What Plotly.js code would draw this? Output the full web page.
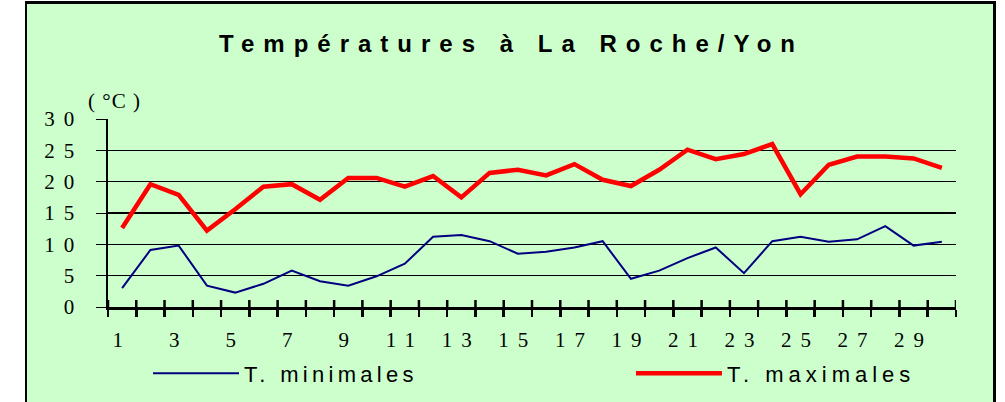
<!DOCTYPE html>
<html><head><meta charset="utf-8">
<script src="https://cdn.plot.ly/plotly-3.0.1.min.js"></script>
<style>
html,body{margin:0;padding:0;background:#fff;width:1005px;height:402px;overflow:hidden}
#chart{position:absolute;left:25px;top:1px;width:966px;height:398px;border-left:2px solid #000;border-right:3px solid #000;border-top:3px solid #000;background:#ccffcc}
text.gtitle{letter-spacing:9px}
.xtick text,.ytick text{letter-spacing:9px}
text.legendtext{letter-spacing:4.3px}
text.legend2text{letter-spacing:5px}
text.annotation-text{letter-spacing:1px}
</style></head><body><div id="chart"></div>
<script>
const days = [1,2,3,4,5,6,7,8,9,10,11,12,13,14,15,16,17,18,19,20,21,22,23,24,25,26,27,28,29,30];
const tMin = [3.0,9.1,9.8,3.4,2.3,3.7,5.8,4.1,3.4,4.9,6.9,11.2,11.5,10.5,8.5,8.8,9.5,10.5,4.5,5.8,7.8,9.5,5.4,10.5,11.2,10.4,10.8,12.9,9.8,10.4];
const tMax = [12.6,19.6,17.9,12.2,15.6,19.2,19.6,17.1,20.6,20.6,19.2,20.9,17.5,21.4,21.9,21.0,22.8,20.3,19.3,21.9,25.1,23.6,24.4,26.0,18.0,22.7,24.0,24.0,23.7,22.2];
const seriesNames = ['T. minimales','T. maximales'];
const titleText = 'Températures à La Roche/Yon';
const unitText = '( °C )';
const xTickVals = [1,3,5,7,9,11,13,15,17,19,21,23,25,27,29];
const xBoundaries = [0.5,1.5,2.5,3.5,4.5,5.5,6.5,7.5,8.5,9.5,10.5,11.5,12.5,13.5,14.5,15.5,16.5,17.5,18.5,19.5,20.5,21.5,22.5,23.5,24.5,25.5,26.5,27.5,28.5,29.5,30.5];
const yTickVals = [0,5,10,15,20,25,30];

const serif = 'Liberation Serif, Times New Roman, serif';
const sans = 'Liberation Sans, Arial, sans-serif';

const traces = [
  {x: days, y: tMin, mode: 'lines', name: seriesNames[0], legend: 'legend', line: {color: '#000080', width: 2}},
  {x: days, y: tMax, mode: 'lines', name: seriesNames[1], legend: 'legend2', line: {color: '#ff0000', width: 4.5}}
];

// the category-boundary tick marks cross the axis line: the outer half is the axis' own (minor) ticks,
// the inner half is mirrored with short line shapes on the same boundaries
const plotH = 188.4;
const innerTicks = xBoundaries.map(b => ({type: 'line', xref: 'x', yref: 'paper', x0: b, x1: b, y0: 0, y1: 7 / plotH,
  line: {color: '#000', width: 2.5}, layer: 'above'}));

const legendBase = {orientation: 'h', xanchor: 'left', y: -0.354, yanchor: 'middle',
  font: {family: sans, size: 22, color: '#000'}, bgcolor: 'rgba(0,0,0,0)', itemwidth: 86};

const layout = {
  width: 966, height: 398,
  paper_bgcolor: '#ccffcc', plot_bgcolor: 'rgba(0,0,0,0)',
  margin: {l: 81, r: 37, t: 115, b: 94.6, pad: 0, autoexpand: false},
  title: {text: titleText, font: {family: sans, size: 24, color: '#000', weight: 'bold'},
          x: 0.5016, xref: 'container', xanchor: 'center', y: 0.9, yref: 'container', yanchor: 'middle'},
  showlegend: true,
  legend: Object.assign({}, legendBase, {x: 0.0472}),
  legend2: Object.assign({}, legendBase, {x: 0.6167}),
  xaxis: {range: [0.5, 30.5], tickmode: 'array', tickvals: xTickVals, ticks: '', showgrid: false, zeroline: false,
          minor: {tickmode: 'array', tickvals: xBoundaries, ticks: 'outside', ticklen: 7, tickwidth: 2.5, tickcolor: '#000', showgrid: false},
          showline: true, linecolor: '#000', linewidth: 2.5, layer: 'above traces',
          tickfont: {family: serif, size: 21, color: '#000'}, ticklabelstandoff: 12, fixedrange: true},
  yaxis: {range: [0, 30], tickmode: 'array', tickvals: yTickVals, ticks: 'outside', ticklen: 10, tickwidth: 1, tickcolor: '#000',
          showgrid: true, gridcolor: '#000', gridwidth: 1.2, zeroline: false, showline: true, linecolor: '#000', linewidth: 2.5,
          layer: 'above traces',
          tickfont: {family: serif, size: 21, color: '#000'}, ticklabelstandoff: 8, fixedrange: true},
  shapes: innerTicks,
  annotations: [{text: unitText, xref: 'paper', yref: 'paper', x: -0.0264, y: 1.0955, xanchor: 'left', yanchor: 'middle',
                 showarrow: false, font: {family: serif, size: 21, color: '#000'}}]
};

Plotly.newPlot('chart', traces, layout, {staticPlot: true, displayModeBar: false});
</script></body></html>
